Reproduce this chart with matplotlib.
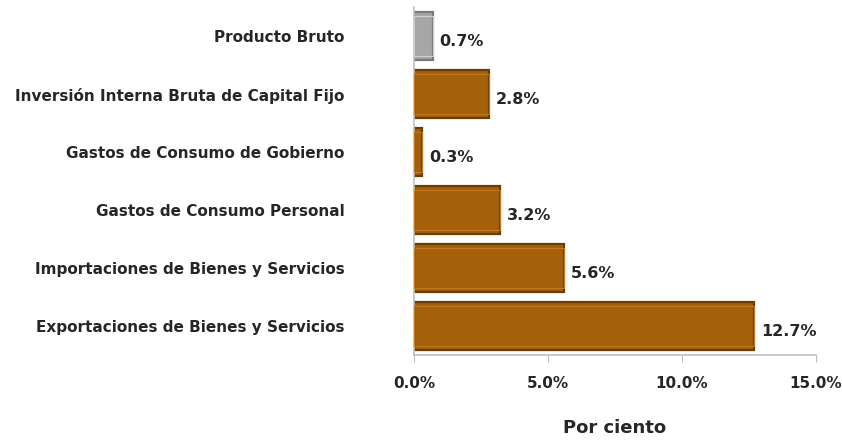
import matplotlib
matplotlib.use("Agg")
import matplotlib.pyplot as plt

categories = [
    "Producto Bruto",
    "Inversión Interna Bruta de Capital Fijo",
    "Gastos de Consumo de Gobierno",
    "Gastos de Consumo Personal",
    "Importaciones de Bienes y Servicios",
    "Exportaciones de Bienes y Servicios",
]
values = [0.7, 2.8, 0.3, 3.2, 5.6, 12.7]
value_labels = ["0.7%", "2.8%", "0.3%", "3.2%", "5.6%", "12.7%"]
xticks = [0, 5, 10, 15]
xtick_labels = ["0.0%", "5.0%", "10.0%", "15.0%"]

face = ["#A6A6A6"] + ["#A5600A"] * 5
edge = ["#7A7A7A"] + ["#6A3C06"] * 5
hilite = ["#CFCFCF"] + ["#C07822"] * 5

plt.rcParams['font.family'] = ['DejaVu Sans']
txt = "#262626"

fig = plt.figure(figsize=(8.42, 4.40), dpi=100)
ax = fig.add_axes([0.4917, 0.193, 0.9691 - 0.4917, 0.984 - 0.193])

y = list(range(len(categories)))
h = 0.83
ax.barh(y, values, height=h, color=face, edgecolor=edge, linewidth=1.6, zorder=2)
# inner bevel highlight
ax.barh(y, values, height=h * 0.82, color="none", edgecolor=hilite,
        linewidth=0.8, zorder=3)
for yi, v, lab in zip(y, values, value_labels):
    ax.text(v + 0.25, yi + 0.1, lab, va="center", ha="left", fontsize=11.5,
            fontweight="bold", color=txt)

ax.set_xlim(0, 15)
ax.set_ylim(len(categories) - 0.5, -0.5)
ax.set_yticks(y)
ax.set_yticklabels(categories, fontsize=11, fontweight="bold", color=txt)
ax.tick_params(axis="y", length=0, pad=50)
ax.set_xticks(xticks)
ax.set_xticklabels(xtick_labels, fontsize=11, fontweight="bold", color=txt)
ax.tick_params(axis="x", length=5, color="#BFBFBF", direction="out", pad=10)
ax.set_xlabel("Por ciento", fontsize=13, fontweight="bold", color=txt, labelpad=20)

for s in ["top", "right"]:
    ax.spines[s].set_visible(False)
ax.spines["left"].set_color("#BFBFBF")
ax.spines["bottom"].set_color("#BFBFBF")
ax.spines["left"].set_linewidth(1.2)
ax.spines["bottom"].set_linewidth(1.2)

fig.savefig("out.png", dpi=100)
